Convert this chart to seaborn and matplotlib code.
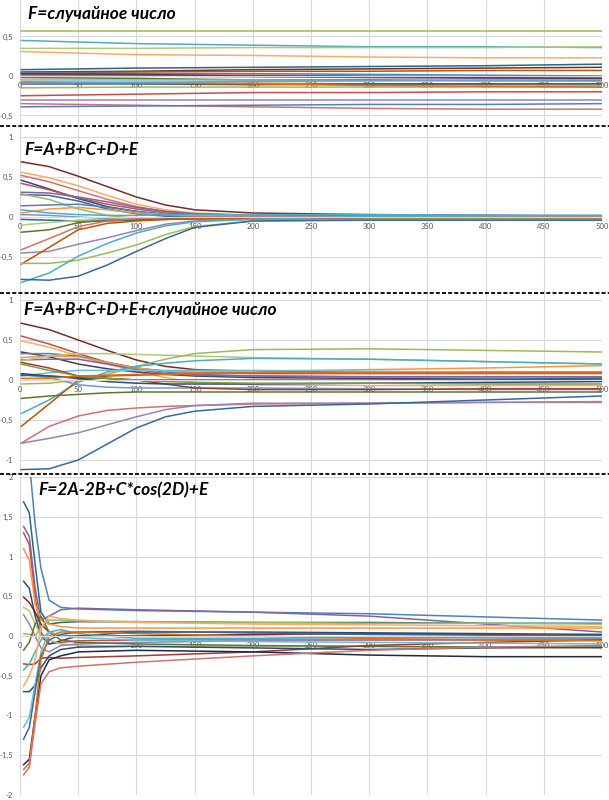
import numpy as np
import pandas as pd
import matplotlib
matplotlib.use("Agg")
import matplotlib.pyplot as plt
from matplotlib.lines import Line2D
import seaborn as sns

sns.set_style("white")
plt.rcParams['font.family'] = ['Lato', 'Open Sans', 'DejaVu Sans']

# ---------------- data ----------------
X_TICKS = [0, 50, 100, 150, 200, 250, 300, 350, 400, 450, 500]

P1_TITLE = "F=случайное число"
P1_X = [1, 100, 200, 300, 400, 500]
P1_COLORS = ['#9BBB59', '#4BACC6', '#AFC97A', '#F9AB6B', '#276A7C', '#772C2A', '#B65708',
             '#4F81BD', '#C0504D', '#8064A2', '#5F7530', '#6FBDD1', '#F79646', '#2C4D75',
             '#9BBB59', '#C0504D', '#9983B5', '#CD7371', '#4F81BD', '#4D3B62', '#E46C0A', '#729ACA']
P1_VALUES = [
    [0.57, 0.57, 0.57, 0.57, 0.57, 0.57],
    [0.45, 0.41, 0.39, 0.37, 0.37, 0.36],
    [0.35, 0.35, 0.36, 0.36, 0.36, 0.37],
    [0.31, 0.27, 0.26, 0.24, 0.23, 0.23],
    [0.08, 0.10, 0.11, 0.12, 0.13, 0.15],
    [0.05, 0.06, 0.08, 0.09, 0.10, 0.11],
    [0.04, 0.05, 0.06, 0.06, 0.07, 0.07],
    [0.04, 0.03, 0.03, 0.02, 0.01, 0.00],
    [0.02, 0.01, 0.01, 0.00, -0.01, -0.01],
    [0.00, 0.00, -0.01, -0.02, -0.03, -0.03],
    [-0.02, -0.03, -0.05, -0.05, -0.06, -0.06],
    [-0.05, -0.05, -0.05, -0.06, -0.06, -0.07],
    [-0.07, -0.08, -0.09, -0.10, -0.11, -0.12],
    [-0.10, -0.10, -0.11, -0.10, -0.10, -0.10],
    [-0.15, -0.14, -0.14, -0.14, -0.14, -0.14],
    [-0.25, -0.23, -0.21, -0.21, -0.20, -0.20],
    [-0.30, -0.30, -0.30, -0.30, -0.30, -0.30],
    [-0.35, -0.37, -0.39, -0.41, -0.42, -0.42],
    [-0.39, -0.38, -0.37, -0.36, -0.36, -0.35],
    [0.03, 0.02, 0.00, -0.01, -0.02, -0.03],
    [-0.08, -0.09, -0.10, -0.12, -0.13, -0.14],
    [-0.09, -0.08, -0.07, -0.06, -0.05, -0.05],
]

P2_TITLE = "F=A+B+C+D+E"
P2_X = [1, 25, 50, 75, 100, 125, 150, 200, 300, 500]
P2_COLORS = ['#772C2A', '#F9AB6B', '#CD7371', '#2C4D75', '#C0504D', '#8064A2', '#3A679C',
             '#9BBB59', '#4F81BD', '#F79646', '#4BACC6', '#729ACA', '#276A7C', '#AFC97A',
             '#5F7530', '#CD7371', '#9983B5', '#B65708', '#9BBB59', '#4BACC6', '#3A679C']
P2_VALUES = [
    [0.69, 0.63, 0.51, 0.38, 0.25, 0.15, 0.09, 0.05, 0.03, 0.01],
    [0.56, 0.49, 0.39, 0.27, 0.16, 0.09, 0.05, 0.02, 0.01, 0.01],
    [0.52, 0.44, 0.33, 0.22, 0.13, 0.07, 0.04, 0.02, 0.01, 0.00],
    [0.46, 0.35, 0.23, 0.13, 0.07, 0.03, 0.01, 0.00, 0.00, 0.00],
    [0.42, 0.34, 0.24, 0.16, 0.10, 0.05, 0.03, 0.01, 0.00, -0.01],
    [0.31, 0.30, 0.25, 0.19, 0.12, 0.07, 0.04, 0.02, 0.01, 0.00],
    [0.28, 0.27, 0.20, 0.10, 0.04, 0.01, 0.00, 0.00, 0.00, 0.00],
    [0.29, 0.22, 0.10, 0.02, -0.02, -0.03, -0.03, -0.03, -0.03, -0.03],
    [0.14, 0.15, 0.16, 0.12, 0.07, 0.03, 0.01, 0.00, -0.01, -0.01],
    [0.05, 0.10, 0.12, 0.09, 0.05, 0.03, 0.02, 0.01, 0.00, 0.00],
    [0.09, 0.05, 0.03, 0.02, 0.02, 0.03, 0.03, 0.03, 0.03, 0.02],
    [0.03, 0.02, 0.00, -0.02, -0.03, -0.02, -0.01, 0.00, 0.00, 0.00],
    [-0.03, -0.04, -0.05, -0.05, -0.04, -0.03, -0.02, -0.02, -0.01, -0.01],
    [-0.10, -0.07, -0.04, -0.03, -0.02, -0.02, -0.02, -0.02, -0.02, -0.02],
    [-0.19, -0.16, -0.07, -0.04, -0.03, -0.02, -0.02, -0.02, -0.02, -0.02],
    [-0.41, -0.27, -0.12, -0.05, -0.02, -0.01, 0.00, 0.00, 0.00, 0.00],
    [-0.45, -0.43, -0.34, -0.26, -0.17, -0.09, -0.05, -0.02, -0.01, -0.01],
    [-0.59, -0.38, -0.16, -0.08, -0.05, -0.03, -0.02, -0.01, -0.01, -0.01],
    [-0.58, -0.58, -0.54, -0.45, -0.35, -0.22, -0.12, -0.05, -0.03, -0.03],
    [-0.82, -0.70, -0.49, -0.33, -0.20, -0.11, -0.06, -0.03, 0.01, 0.02],
    [-0.78, -0.79, -0.74, -0.60, -0.43, -0.27, -0.13, -0.05, -0.04, -0.04],
]

P3_TITLE = "F=A+B+C+D+E+случайное число"
P3_X = [1, 25, 50, 75, 100, 125, 150, 200, 300, 400, 500]
P3_COLORS = ['#772C2A', '#C0504D', '#F9AB6B', '#4D3B62', '#4F81BD', '#F79646', '#8064A2',
             '#AFC97A', '#9BBB59', '#4BACC6', '#B65708', '#5F7530', '#CD7371', '#9983B5',
             '#3A679C', '#729ACA', '#6FBDD1', '#276A7C', '#9D3B38', '#2C4D75', '#7E9C40', '#E46C0A']
P3_VALUES = [
    [0.71, 0.63, 0.50, 0.37, 0.25, 0.17, 0.13, 0.11, 0.10, 0.10, 0.10],
    [0.55, 0.45, 0.33, 0.22, 0.15, 0.11, 0.09, 0.08, 0.08, 0.08, 0.08],
    [0.49, 0.41, 0.30, 0.20, 0.11, 0.03, -0.03, -0.06, -0.07, -0.07, -0.07],
    [0.35, 0.29, 0.20, 0.14, 0.10, 0.07, 0.05, 0.03, 0.02, 0.01, 0.00],
    [0.33, 0.33, 0.30, 0.22, 0.15, 0.10, 0.07, 0.05, 0.04, 0.04, 0.04],
    [0.28, 0.30, 0.29, 0.22, 0.15, 0.11, 0.10, 0.11, 0.13, 0.15, 0.18],
    [0.25, 0.26, 0.26, 0.20, 0.13, 0.08, 0.06, 0.05, 0.04, 0.04, 0.04],
    [0.24, 0.30, 0.33, 0.33, 0.32, 0.31, 0.30, 0.28, 0.26, 0.23, 0.20],
    [-0.05, -0.04, 0.00, 0.07, 0.17, 0.26, 0.33, 0.38, 0.39, 0.37, 0.35],
    [-0.42, -0.25, -0.03, 0.10, 0.17, 0.21, 0.24, 0.27, 0.26, 0.23, 0.20],
    [-0.58, -0.30, 0.00, 0.05, 0.06, 0.07, 0.08, 0.09, 0.10, 0.10, 0.10],
    [-0.23, -0.20, -0.18, -0.16, -0.15, -0.15, -0.15, -0.15, -0.15, -0.15, -0.15],
    [-0.79, -0.58, -0.45, -0.38, -0.35, -0.33, -0.32, -0.30, -0.29, -0.28, -0.28],
    [-0.79, -0.73, -0.66, -0.56, -0.46, -0.37, -0.32, -0.29, -0.29, -0.28, -0.27],
    [-1.12, -1.11, -1.00, -0.80, -0.60, -0.46, -0.39, -0.33, -0.30, -0.25, -0.20],
    [0.07, 0.03, -0.06, -0.09, -0.10, -0.10, -0.10, -0.10, -0.11, -0.12, -0.12],
    [0.05, 0.09, 0.12, 0.12, 0.12, 0.12, 0.12, 0.12, 0.11, 0.10, 0.10],
    [0.06, 0.05, 0.03, 0.02, 0.00, 0.00, 0.00, 0.00, 0.00, 0.01, 0.02],
    [0.22, 0.15, 0.05, 0.02, 0.00, -0.05, -0.10, -0.12, -0.12, -0.11, -0.11],
    [0.08, 0.05, 0.02, -0.02, -0.04, -0.05, -0.05, -0.05, -0.04, -0.03, -0.02],
    [0.20, 0.12, 0.05, 0.02, 0.00, -0.02, -0.03, -0.04, -0.04, -0.05, -0.05],
    [0.02, 0.02, 0.05, 0.06, 0.07, 0.07, 0.08, 0.09, 0.09, 0.09, 0.09],
]

P4_TITLE = "F=2A-2B+C*cos(2D)+E"
P4_X = [3, 8, 13, 18, 25, 35, 50, 100, 200, 300, 400, 500]
P4_COLORS = ['#4F81BD', '#276A7C', '#8064A2', '#C0504D', '#F79646', '#2C4D75', '#772C2A',
             '#AFC97A', '#9983B5', '#9BBB59', '#5F7530', '#9D3B38', '#4BACC6', '#F9AB6B',
             '#2C4D75', '#6FBDD1', '#3A679C', '#1F2A44', '#E46C0A', '#CD7371']
P4_VALUES = [
    [2.60, 2.20, 1.40, 0.85, 0.45, 0.36, 0.34, 0.32, 0.30, 0.28, 0.24, 0.20],
    [1.69, 1.55, 0.90, 0.30, 0.15, 0.17, 0.18, 0.18, 0.17, 0.17, 0.16, 0.16],
    [1.38, 1.25, 0.60, 0.20, 0.25, 0.33, 0.35, 0.33, 0.30, 0.25, 0.15, 0.05],
    [1.30, 1.15, 0.50, 0.05, -0.10, -0.08, -0.06, -0.05, -0.05, -0.05, -0.05, -0.05],
    [1.10, 0.95, 0.40, 0.20, 0.15, 0.12, 0.10, 0.10, 0.10, 0.10, 0.10, 0.10],
    [0.69, 0.60, 0.25, 0.00, -0.10, -0.06, 0.00, 0.05, 0.05, 0.04, 0.03, 0.02],
    [0.49, 0.42, 0.30, 0.15, 0.05, 0.00, 0.00, 0.00, 0.02, 0.03, 0.02, 0.00],
    [0.36, 0.32, 0.15, 0.00, -0.05, -0.10, -0.12, -0.13, -0.13, -0.13, -0.14, -0.14],
    [0.27, 0.15, 0.00, -0.15, -0.20, -0.12, -0.10, -0.08, -0.06, -0.05, -0.04, -0.03],
    [0.03, 0.02, 0.00, 0.10, 0.20, 0.20, 0.19, 0.18, 0.17, 0.16, 0.16, 0.15],
    [-0.18, -0.08, 0.15, 0.25, 0.05, -0.05, -0.08, -0.10, -0.12, -0.13, -0.14, -0.15],
    [-0.35, -0.36, -0.35, -0.28, -0.27, -0.28, -0.27, -0.25, -0.20, -0.12, -0.08, -0.05],
    [-0.43, -0.35, -0.20, -0.05, 0.05, 0.08, 0.03, -0.03, -0.03, -0.02, -0.02, -0.02],
    [-0.63, -0.50, -0.30, 0.10, 0.25, 0.22, 0.20, 0.17, 0.15, 0.14, 0.13, 0.12],
    [-0.70, -0.70, -0.62, -0.40, -0.25, -0.17, -0.14, -0.13, -0.15, -0.17, -0.15, -0.14],
    [-1.15, -1.02, -0.60, -0.20, 0.05, 0.00, -0.02, -0.05, -0.07, -0.08, -0.09, -0.10],
    [-1.30, -1.15, -0.70, -0.25, -0.05, 0.02, 0.05, 0.06, 0.04, 0.02, 0.01, 0.00],
    [-1.62, -1.55, -1.00, -0.50, -0.30, -0.25, -0.20, -0.18, -0.20, -0.24, -0.26, -0.26],
    [-1.68, -1.60, -1.00, -0.30, 0.00, 0.05, 0.05, 0.03, 0.00, -0.03, -0.05, -0.06],
    [-1.75, -1.65, -1.10, -0.60, -0.45, -0.40, -0.38, -0.33, -0.25, -0.18, -0.14, -0.12],
]

# ---------------- layout (pixels, top-down) ----------------
W, H = 609, 800
fig = plt.figure(figsize=(W / 100, H / 100), dpi=100)
fig.patch.set_facecolor('white')

panels = [
    # title, x, values, colors, top_px, bottom_px, ylim, yticks, title_x, title_y
    (P1_TITLE, P1_X, P1_VALUES, P1_COLORS, 0, 126, (-0.633, 0.962), [-0.5, 0, 0.5], 28, 14),
    (P2_TITLE, P2_X, P2_VALUES, P2_COLORS, 126, 293, (-0.95, 1.1375), [-0.5, 0, 0.5, 1], 24, 150),
    (P3_TITLE, P3_X, P3_VALUES, P3_COLORS, 293, 473, (-1.1625, 1.0875), [-1, -0.5, 0, 0.5, 1], 24, 310),
    (P4_TITLE, P4_X, P4_VALUES, P4_COLORS, 477, 795, (-2.0, 2.0), [-2, -1.5, -1, -0.5, 0, 0.5, 1, 1.5, 2], 38, 490),
]

def fmt(v):
    s = ('%g' % v).replace('.', ',')
    return s

GRID = '#d9d9d9'
LBL = '#595959'

for title, xs, vals, cols, top, bot, ylim, yt, tx, ty in panels:
    ax = fig.add_axes([20 / W, 1 - bot / H, 582 / W, (bot - top) / H])
    rows = []
    for i, series in enumerate(vals):
        for x, y in zip(xs, series):
            rows.append({'x': x, 'y': y, 's': f's{i:02d}'})
    df = pd.DataFrame(rows)
    pal = {f's{i:02d}': c for i, c in enumerate(cols)}
    ax.set_xlim(0, 500)
    ax.set_ylim(*ylim)
    ax.set_xticks(X_TICKS)
    ax.set_yticks(yt)
    ax.set_yticklabels([fmt(v) for v in yt])
    ax.set_xticklabels([str(v) for v in X_TICKS])
    ax.grid(True, color=GRID, linewidth=0.8, zorder=0)
    ax.set_axisbelow(True)
    for sp in ['top', 'right', 'left']:
        ax.spines[sp].set_visible(False)
    ax.spines['bottom'].set_position(('data', 0))
    ax.spines['bottom'].set_color(GRID)
    ax.spines['bottom'].set_linewidth(0.8)
    ax.tick_params(axis='both', length=0, labelsize=5.5, labelcolor=LBL)
    ax.tick_params(axis='x', pad=4.3)
    ax.tick_params(axis='y', pad=5)
    sns.lineplot(data=df, x='x', y='y', hue='s', palette=pal, estimator=None,
                 legend=False, linewidth=1.1, ax=ax, sort=True)
    ax.set_xlabel('')
    ax.set_ylabel('')
    fig.text(tx / W, 1 - ty / H, title, fontsize=12.5, fontweight='bold', style='italic',
             ha='left', va='center', color='black',
             family=['Lato', 'Open Sans', 'DejaVu Sans'])

# dashed separators
for ypx in [126, 293, 474]:
    fig.add_artist(Line2D([0, 1], [1 - ypx / H, 1 - ypx / H], transform=fig.transFigure,
                          color='black', linewidth=1.3, linestyle=(0, (2.2, 1.2))))

fig.savefig('out.png', dpi=100, facecolor='white')
